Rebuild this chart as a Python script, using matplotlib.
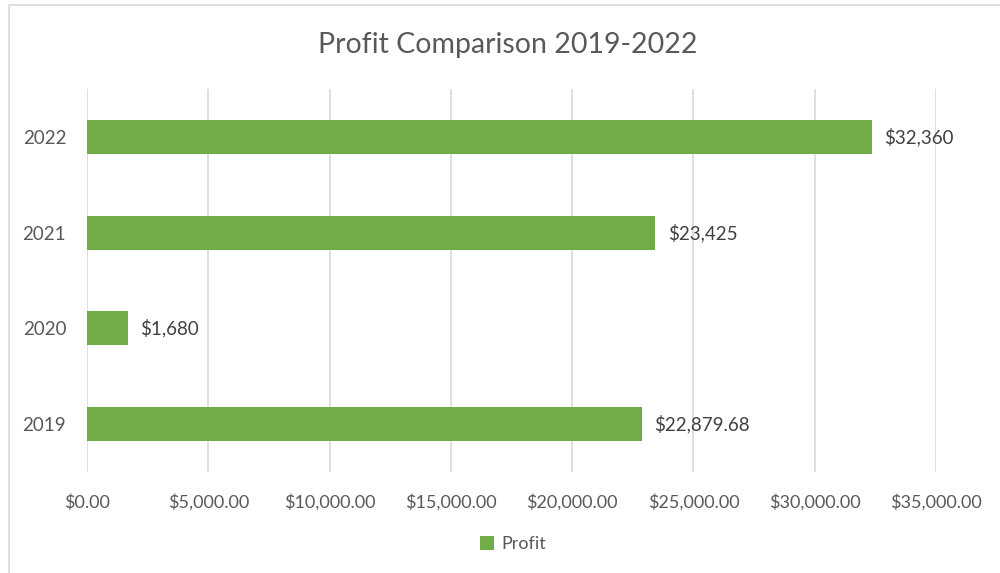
import matplotlib.pyplot as plt
from matplotlib.patches import Rectangle
from matplotlib.ticker import FuncFormatter

# data
years = ["2019", "2020", "2021", "2022"]
profit = [22879.68, 1680, 23425, 32360]
labels = ["$22,879.68", "$1,680", "$23,425", "$32,360"]
x_ticks = [0, 5000, 10000, 15000, 20000, 25000, 30000, 35000]

plt.rcParams["font.family"] = ["Lato", "DejaVu Sans"]
text_color = "#595959"
bar_color = "#70AD47"

fig = plt.figure(figsize=(10, 5.73), dpi=100)
ax = fig.add_axes([0.087, 1 - 472 / 573, 0.849, (472 - 89) / 573])

# chart border
fig.patches.append(Rectangle((9 / 1000, -0.1), 1.2, 1 - 5 / 573 + 0.1,
                             transform=fig.transFigure, fill=False,
                             edgecolor="#D9D9D9", linewidth=1.2))

pos = range(len(years))
ax.barh(pos, profit, height=0.355, color=bar_color, label="Profit", zorder=3)

for p, v, lab in zip(pos, profit, labels):
    ax.annotate(lab, (v, p), xytext=(9, 0), textcoords="offset points",
                va="center", ha="left", fontsize=13.5, color="#404040")

ax.set_xlim(0, 35000)
ax.set_ylim(-0.5, 3.5)
ax.set_xticks(x_ticks)
ax.xaxis.set_major_formatter(FuncFormatter(lambda v, _: f"${v:,.2f}"))
ax.set_yticks(list(pos))
ax.set_yticklabels(years)
ax.tick_params(axis="x", length=0, labelsize=13, labelcolor=text_color, pad=16)
ax.tick_params(axis="y", length=0, labelsize=13.5, labelcolor=text_color, pad=15)

ax.grid(axis="x", color="#D9D9D9", linewidth=1.2, zorder=0)
for s in ax.spines.values():
    s.set_visible(False)

fig.text(0.508, 1 - 45 / 573, "Profit Comparison 2019-2022", ha="center",
         va="center", fontsize=20.5, color=text_color)

ax.legend(loc="center", bbox_to_anchor=(0.513, 1 - 544 / 573),
          bbox_transform=fig.transFigure, frameon=False, fontsize=13,
          labelcolor=text_color, handlelength=0.8, handleheight=0.8,
          handletextpad=0.4)

fig.savefig("out.png", dpi=100)
